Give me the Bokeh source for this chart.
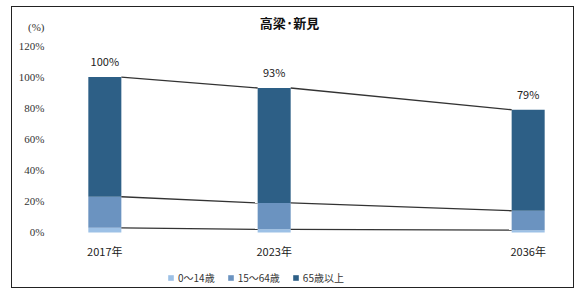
from bokeh.plotting import figure
from bokeh.models import Range1d, ColumnDataSource, Label, Legend, LegendItem, FixedTicker
from bokeh.core.properties import value
from bokeh.embed import file_html
from bokeh.resources import INLINE

# ---- data ----
slots = ["2017年", "", "2023年", "", "", "2036年"]   # category slots of the axis
years = ["2017年", "2023年", "2036年"]
age_0_14 = [3, 2, 1.5]
age_15_64 = [20, 17, 12.5]
age_65 = [77, 74, 65]
totals = [100, 93, 79]
total_labels = ["100%", "93%", "79%"]
series_names = ["0～14歳", "15～64歳", "65歳以上"]
colors = ["#9dc1e6", "#6b93c0", "#2d5f86"]
y_ticks = [0, 20, 40, 60, 80, 100, 120]
y_tick_labels = ["0%", "20%", "40%", "60%", "80%", "100%", "120%"]
unit_label = "(%)"
title_text = "高梁·新見"

JP = "Noto Sans CJK JP"
bar_w = 0.39
unit_pos = 132      # axis position of the unit label, above the top tick
title_pos = 135

# category centre of each year on the slot axis
xc = [slots.index(y) + 0.5 for y in years]

src = ColumnDataSource(dict(x=xc, a=age_0_14, b=age_15_64, c=age_65,
                            tot=totals, lab=total_labels, yr=years,
                            base=[0] * len(years)))

p = figure(x_range=Range1d(0, len(slots)), y_range=Range1d(-36.7, 144.8),
           width=563, height=282, output_backend="svg", toolbar_location=None,
           min_border_left=50, min_border_right=5, min_border_top=0, min_border_bottom=0)
p.styles = {"border": "1.5px solid #222222", "margin-left": "11px", "margin-top": "6px"}

r = p.vbar_stack(["a", "b", "c"], x="x", width=bar_w, source=src, color=colors,
                 line_color=None)

# connecting series lines (from right edge of one bar to left edge of next)
cum1 = age_0_14
cum2 = [a + b for a, b in zip(age_0_14, age_15_64)]
cum3 = [a + b + c for a, b, c in zip(age_0_14, age_15_64, age_65)]
for cum in (cum1, cum2, cum3):
    x0 = [xc[i] + bar_w / 2 for i in range(len(xc) - 1)]
    x1 = [xc[i + 1] - bar_w / 2 for i in range(len(xc) - 1)]
    p.segment(x0=x0, y0=cum[:-1], x1=x1, y1=cum[1:], line_color="#333333", line_width=1.3)

# total labels above bars
p.text(x="x", y="tot", text="lab", source=src, text_align="center", text_baseline="bottom",
       y_offset=-8, text_font=value(JP), text_font_size="11px", text_color="#222222")

# category labels under the bars
p.text(x="x", y="base", text="yr", source=src, text_align="center", text_baseline="middle",
       y_offset=19, text_font=value(JP), text_font_size="11px", text_color="#222222")

# chart title
p.add_layout(Label(x=len(slots) / 2, y=title_pos, x_offset=-27, text=title_text,
                   text_font=JP, text_font_size="13px", text_font_style="bold",
                   text_color="#111111", text_align="center", text_baseline="middle"))

p.xgrid.visible = False
p.ygrid.visible = False
p.outline_line_color = None
p.xaxis.visible = False

p.yaxis.ticker = FixedTicker(ticks=y_ticks + [unit_pos])
overrides = {t: l for t, l in zip(y_ticks, y_tick_labels)}
overrides[unit_pos] = unit_label
p.yaxis.major_label_overrides = overrides
p.yaxis.axis_line_color = None
p.yaxis.major_tick_line_color = None
p.yaxis.minor_tick_line_color = None
p.yaxis.major_label_text_font = "Liberation Serif"
p.yaxis.major_label_text_font_size = "11px"
p.yaxis.major_label_text_color = "#333333"
p.yaxis.major_label_standoff = 12

legend = Legend(items=[LegendItem(label=n, renderers=[rr]) for n, rr in zip(series_names, r)],
                orientation="horizontal", location=(105, 4),
                label_text_font=JP, label_text_font_size="10px", label_text_color="#333333",
                glyph_width=7, glyph_height=7, label_height=14, spacing=12, label_standoff=4,
                padding=2, margin=0, border_line_color=None, background_fill_alpha=0)
p.add_layout(legend)

open("out.html", "w").write(file_html(p, INLINE))
